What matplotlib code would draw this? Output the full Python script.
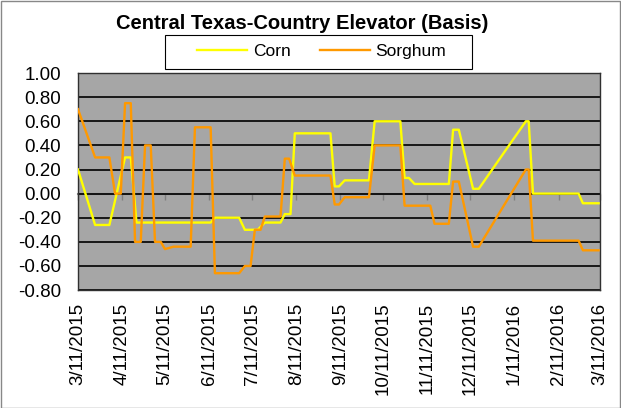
import numpy as np
import pandas as pd
import matplotlib
matplotlib.use('Agg')
import matplotlib.pyplot as plt
from matplotlib.patches import Rectangle
from matplotlib.ticker import FormatStrFormatter

plt.rcParams['font.family'] = 'Liberation Sans'
plt.rcParams['axes.unicode_minus'] = False

# Basis data (turning points)
corn_dates = ['2015-03-11', '2015-03-23', '2015-04-02', '2015-04-13', '2015-04-17',
              '2015-04-21', '2015-06-12', '2015-06-15', '2015-07-02', '2015-07-06',
              '2015-07-15', '2015-07-20', '2015-07-31', '2015-08-03', '2015-08-07',
              '2015-08-10', '2015-09-04', '2015-09-07', '2015-09-10', '2015-09-14',
              '2015-10-01', '2015-10-05', '2015-10-23', '2015-10-26', '2015-10-29',
              '2015-11-02', '2015-11-26', '2015-11-29', '2015-12-03', '2015-12-13',
              '2015-12-17', '2016-01-19', '2016-01-21', '2016-01-24', '2016-02-25',
              '2016-02-28', '2016-03-10']
corn = [0.20, -0.26, -0.26, 0.30, 0.30,
        -0.24, -0.24, -0.20, -0.20, -0.30,
        -0.30, -0.24, -0.24, -0.17, -0.17,
        0.50, 0.50, 0.06, 0.06, 0.11,
        0.11, 0.60, 0.60, 0.13, 0.13,
        0.08, 0.08, 0.53, 0.53, 0.04,
        0.04, 0.60, 0.60, 0.00, 0.00,
        -0.08, -0.08]

sorghum_dates = ['2015-03-11', '2015-03-23', '2015-04-02', '2015-04-06', '2015-04-10',
                 '2015-04-13', '2015-04-17', '2015-04-20', '2015-04-24', '2015-04-27',
                 '2015-05-01', '2015-05-04', '2015-05-08', '2015-05-11', '2015-05-17',
                 '2015-05-29', '2015-06-01', '2015-06-12', '2015-06-15', '2015-07-02',
                 '2015-07-06', '2015-07-10', '2015-07-13', '2015-07-17', '2015-07-20',
                 '2015-07-31', '2015-08-03', '2015-08-06', '2015-08-10', '2015-09-04',
                 '2015-09-07', '2015-09-10', '2015-09-14', '2015-10-01', '2015-10-05',
                 '2015-10-23', '2015-10-26', '2015-11-13', '2015-11-16', '2015-11-26',
                 '2015-11-29', '2015-12-03', '2015-12-13', '2015-12-17', '2016-01-19',
                 '2016-01-21', '2016-01-24', '2016-02-25', '2016-02-28', '2016-03-10']
sorghum = [0.70, 0.30, 0.30, 0.00, 0.00,
           0.75, 0.75, -0.40, -0.40, 0.40,
           0.40, -0.40, -0.40, -0.46, -0.44,
           -0.44, 0.55, 0.55, -0.66, -0.66,
           -0.60, -0.60, -0.30, -0.30, -0.19,
           -0.19, 0.29, 0.29, 0.15, 0.15,
           -0.09, -0.09, -0.03, -0.03, 0.40,
           0.40, -0.10, -0.10, -0.25, -0.25,
           0.10, 0.10, -0.44, -0.44, 0.20,
           0.20, -0.39, -0.39, -0.47, -0.47]

month_ticks = ['2015-03-11', '2015-04-11', '2015-05-11', '2015-06-11', '2015-07-11',
               '2015-08-11', '2015-09-11', '2015-10-11', '2015-11-11', '2015-12-11',
               '2016-01-11', '2016-02-11', '2016-03-11']
y_ticks = [1.0, 0.8, 0.6, 0.4, 0.2, 0.0, -0.2, -0.4, -0.6, -0.8]

corn_x = pd.to_datetime(corn_dates)
sorghum_x = pd.to_datetime(sorghum_dates)
tick_x = pd.to_datetime(month_ticks)
tick_labels = ['{}/{}/{}'.format(d.month, d.day, d.year) for d in tick_x]

fig = plt.figure(figsize=(6.21, 4.08), dpi=100)
ax = fig.add_axes([0.1256, 0.289, 0.8406, 0.532])
ax.set_facecolor('#a6a6a6')

ax.plot(corn_x, corn, color='#ffff00', lw=1.7, label='Corn', zorder=3)
ax.plot(sorghum_x, sorghum, color='#ff9900', lw=1.7, label='Sorghum', zorder=3)

ax.set_ylim(-0.8, 1.0)
ax.set_xlim(tick_x[0], tick_x[-1])
ax.set_yticks(y_ticks)
ax.yaxis.set_major_formatter(FormatStrFormatter('%.2f'))
ax.grid(axis='y', color='black', lw=1.2)
ax.set_axisbelow(True)
ax.tick_params(axis='y', length=0, pad=12, labelsize=13.5)

ax.set_xticks(tick_x)
ax.set_xticklabels(tick_labels, rotation=90, fontsize=13.5)
ax.tick_params(axis='x', length=0, pad=9)

for s in ax.spines.values():
    s.set_color('#303030')
    s.set_linewidth(1.0)

# horizontal axis line with ticks at zero
zero_ax = ax.secondary_xaxis(0.8 / 1.8)
zero_ax.set_xticks(tick_x)
zero_ax.set_xticklabels([])
zero_ax.tick_params(axis='x', direction='out', length=4, width=1, color='#808080')
zero_ax.spines['bottom'].set_color('#808080')
zero_ax.spines['bottom'].set_linewidth(1.5)

fig.text(0.487, 0.943, 'Central Texas-Country Elevator (Basis)', ha='center', va='center',
         fontsize=14.5, fontweight='bold')

fig.patches.append(Rectangle((0.266, 0.831), 0.494, 0.084, transform=fig.transFigure,
                             facecolor='white', edgecolor='black', lw=0.8, zorder=1))
fig.legend(loc='center', bbox_to_anchor=(0.518, 0.873), ncol=2, frameon=False,
           fontsize=12.5, handlelength=2.9, columnspacing=1.7, handletextpad=0.3)

fig.patches.append(Rectangle((0.001, 0.001), 0.997, 0.997, transform=fig.transFigure,
                             facecolor='none', edgecolor='#888888', lw=1.0))

fig.savefig('out.png', dpi=100)
